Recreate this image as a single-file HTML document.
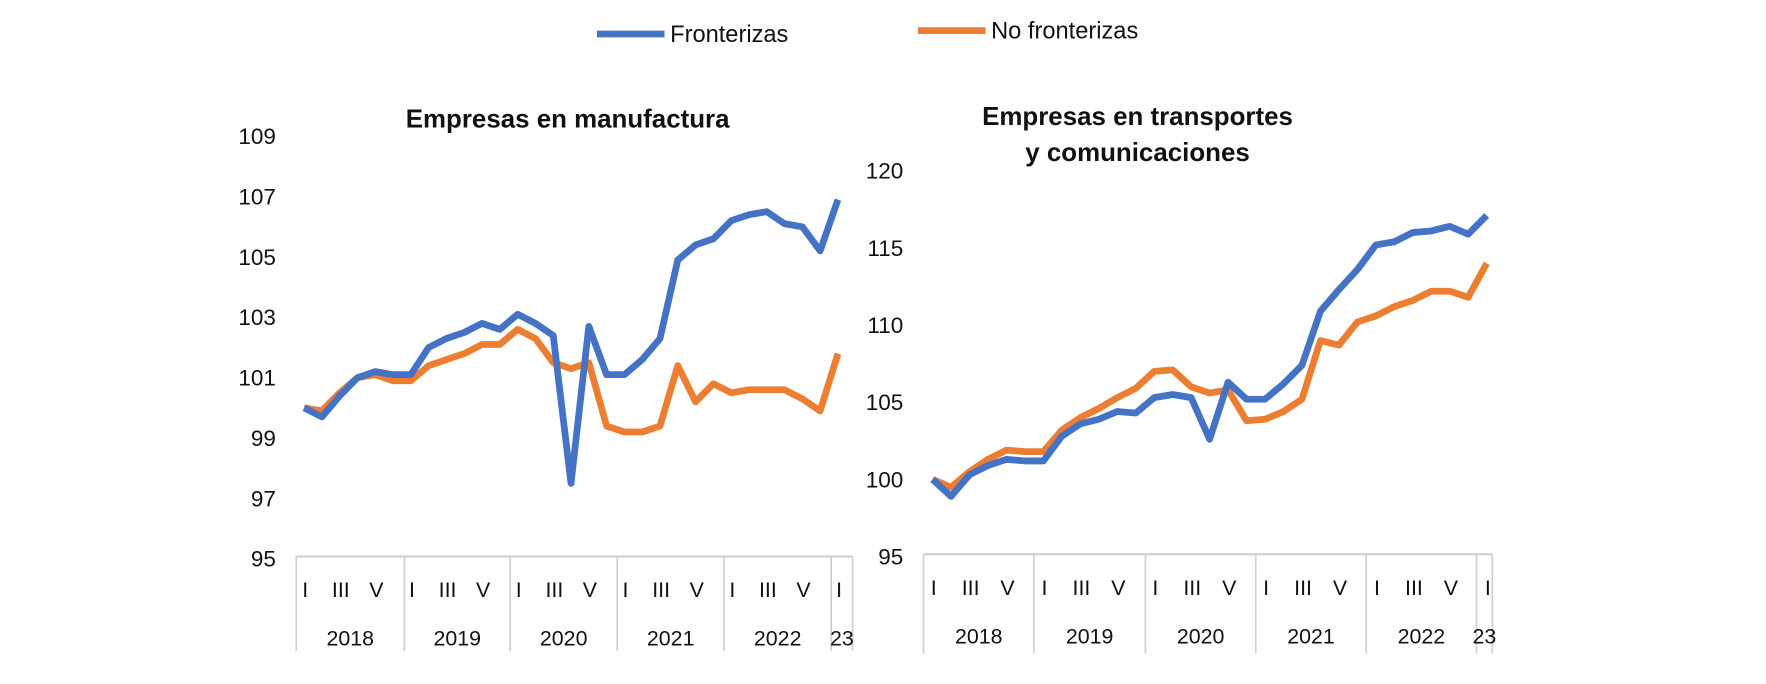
<!DOCTYPE html>
<html><head><meta charset="utf-8"><style>
html,body{margin:0;padding:0;background:#fff;}
svg{display:block;}
text{font-family:"Liberation Sans",sans-serif;fill:#111;}
</style></head><body>
<svg id="s" width="1766" height="684" viewBox="0 0 1568 607" xmlns="http://www.w3.org/2000/svg">
<line x1="530" y1="30" x2="590" y2="30" stroke="#4472C4" stroke-width="6"/>
<text x="595" y="37" font-size="21">Fronterizas</text>
<line x1="815" y1="27" x2="875" y2="27" stroke="#ED7D31" stroke-width="6"/>
<text x="880" y="34" font-size="21">No fronterizas</text>
<text x="504" y="113" font-size="23" font-weight="bold" text-anchor="middle">Empresas en manufactura</text>
<text x="1010" y="111" font-size="23" font-weight="bold" text-anchor="middle">Empresas en transportes</text>
<text x="1010" y="143" font-size="23" font-weight="bold" text-anchor="middle">y comunicaciones</text>
<g id="g"></g>
</svg>
<script>
var g=document.getElementById('g'),h='';
function chart(o){
 // y labels
 o.ticks.forEach(function(v){h+='<text x="'+o.lx+'" y="'+(o.y(v)+7)+'" font-size="20" text-anchor="end">'+v+'</text>';});
 // box
 h+='<line x1="'+o.x0+'" y1="'+o.bt+'" x2="'+o.x1+'" y2="'+o.bt+'" stroke="#d0d0d0" stroke-width="2"/>';
 o.seps.forEach(function(x){h+='<line x1="'+x+'" y1="'+o.bt+'" x2="'+x+'" y2="'+o.bb+'" stroke="#d0d0d0" stroke-width="1.5"/>';});
 var lab=['I','','III','','V',''];
 for(var i=0;i<31;i++){var l=lab[i%6];if(l)h+='<text x="'+(o.px(i)+1)+'" y="'+(o.bt+36)+'" font-size="19" text-anchor="middle">'+l+'</text>';}
 var yrs=['2018','2019','2020','2021','2022','23'];
 for(var k=0;k<6;k++){var cx=k<5?(o.seps[k]+o.seps[k+1])/2:(o.seps[5]+o.seps[6])/2;h+='<text x="'+cx+'" y="'+(o.bt+79)+'" font-size="19" text-anchor="middle">'+yrs[k]+'</text>';}
 [[o.or,'#ED7D31'],[o.bl,'#4472C4']].forEach(function(s){
  var d=s[0].map(function(v,i){return (i?'L':'M')+o.px(i).toFixed(1)+' '+o.y(v).toFixed(1);}).join(' ');
  h+='<path d="'+d+'" fill="none" stroke="'+s[1]+'" stroke-width="6" stroke-linejoin="round"/>';
 });
}
chart({ticks:[109,107,105,103,101,99,97,95],lx:245,y:function(v){return 496-(v-95)*26.8;},
 x0:263,x1:757,bt:494,bb:578,seps:[263,359,453,548,643,738,757],px:function(i){return 270+15.8*i;},
 bl:[100,99.7,100.4,101,101.2,101.1,101.1,102,102.3,102.5,102.8,102.6,103.1,102.8,102.4,97.5,102.7,101.1,101.1,101.6,102.3,104.9,105.4,105.6,106.2,106.4,106.5,106.1,106,105.2,106.9],
 or:[100,99.9,100.5,101,101.1,100.9,100.9,101.4,101.6,101.8,102.1,102.1,102.6,102.3,101.5,101.3,101.5,99.4,99.2,99.2,99.4,101.4,100.2,100.8,100.5,100.6,100.6,100.6,100.3,99.9,101.8]});
chart({ticks:[120,115,110,105,100,95],lx:802,y:function(v){return 494-(v-95)*13.7;},
 x0:820,x1:1325,bt:492,bb:580,seps:[820,918,1017,1115,1213,1311,1325],px:function(i){return 828+16.4*i;},
 bl:[100,98.9,100.3,100.9,101.3,101.2,101.2,102.8,103.6,103.9,104.4,104.3,105.3,105.5,105.3,102.6,106.3,105.2,105.2,106.2,107.4,110.9,112.3,113.6,115.2,115.4,116,116.1,116.4,115.9,117.1],
 or:[100,99.5,100.5,101.3,101.9,101.8,101.8,103.2,104,104.6,105.3,105.9,107,107.1,106,105.6,105.8,103.8,103.9,104.4,105.2,109,108.7,110.2,110.6,111.2,111.6,112.2,112.2,111.8,114]});
g.innerHTML=h;
</script>
</body></html>
